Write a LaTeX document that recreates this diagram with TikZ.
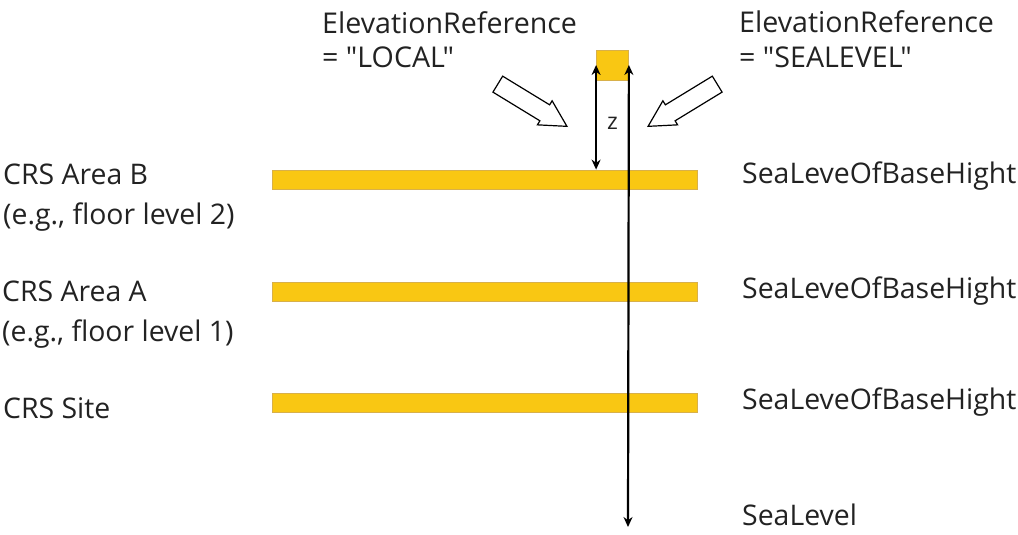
\documentclass[tikz,border=0pt]{standalone}
\usepackage{fontspec}
\setmainfont{Open Sans}[Ligatures=TeXOff]
\usetikzlibrary{arrows.meta}
\usetikzlibrary{shapes.arrows}
\definecolor{barYellow}{HTML}{F9C713}
\definecolor{barEdge}{HTML}{D8B04A}
\definecolor{textGray}{HTML}{222222}

\begin{document}
\begin{tikzpicture}
[x=1pt,y=-1pt,%
  barDecorate/.style={rectangle,fill=barYellow,draw=barEdge,line width=0.8pt,
    minimum width=425pt,minimum height=19pt,inner sep=0pt},
  labelDecorate/.style={anchor=base west,inner sep=0pt,align=left,text=textGray,
    font=\fontsize{28.4}{40}\selectfont},
  headDecorate/.style={labelDecorate,font=\fontsize{28.6}{35}\selectfont},
  lineDecorate/.style={line width=2.2pt,{Stealth[length=10pt,width=9pt]}-{Stealth[length=10pt,width=9pt]}},
  hintDecorate/.style={single arrow,draw,line width=1.2pt,fill=white,anchor=tip,
    inner xsep=0pt,inner ysep=8.75pt,minimum height=81pt,
    single arrow head extend=4.75pt,single arrow tip angle=57}]
\useasboundingbox (0,0) rectangle (1018,535);
%%
%% floor levels
\foreach \nodename/\y in {barB/179.5, barA/291.5, barSite/402.5}
{
  \node (\nodename) at (484.5,\y) [barDecorate] {};
}
\node (topbox) at (612.5,65) [barDecorate,minimum width=32pt,minimum height=30pt] {};
%%
%% names of the levels
\node (areaB) at (3,224) [labelDecorate] {CRS Area B\\(e.g., floor level 2)};
\node (areaA) at (2,341) [labelDecorate] {CRS Area A\\(e.g., floor level 1)};
\node (site) at (3,418) [labelDecorate] {CRS Site};
\foreach \nodename/\y in {seaB/183, seaA/298, seaSite/409}
{
  \node (\nodename) at (742,\y) [labelDecorate] {SeaLeveOfBaseHight};
}
\node (sealevel) at (742,525) [labelDecorate] {SeaLevel};
%%
%% elevation references
\node (localref) at (322,68) [headDecorate] {ElevationReference\\= "LOCAL"};
\node (sealevelref) at (739,67) [headDecorate] {ElevationReference\\= "SEALEVEL"};
\node (localhint) at (568,127) [hintDecorate,rotate=-31.4] {};
\node (sealevelhint) at (647,127) [hintDecorate,rotate=211.4] {};
%%
%% heights
\coordinate (sealevelpt) at (628,527);
\draw[lineDecorate] (topbox.west) -- (topbox.west |- barB.north)
  node[pos=0.56,right=10pt,inner sep=0pt,text=textGray,font=\fontsize{23}{26}\selectfont] (zlabel) {z};
\draw[lineDecorate] (topbox.east) -- (sealevelpt);
\end{tikzpicture}
\end{document}
